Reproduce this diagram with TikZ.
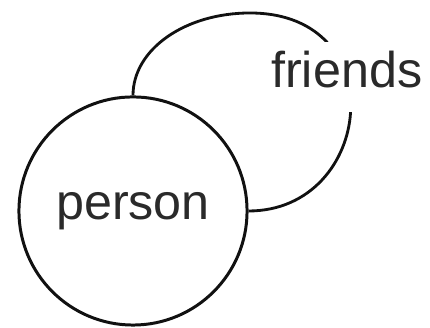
\documentclass[tikz,border=0pt]{standalone}
\usepackage{fontspec}
\setmainfont{Liberation Sans}
\usepackage{tikz}
\usetikzlibrary{positioning}
\definecolor{erink}{HTML}{111111}
\definecolor{ertext}{HTML}{2A2A2A}
\tikzset{
  ent/.style={circle, draw=erink, line width=0.85pt, minimum size=2.28cm, inner sep=0pt, text=ertext, font=\fontsize{14.3}{17}\selectfont},
  rel/.style={draw=erink, line width=0.8pt},
  rlbl/.style={fill=white, inner sep=2pt, text height=11pt, text depth=5pt, text=ertext, font=\fontsize{14.3}{17}\selectfont},
}
\begin{document}
\begin{tikzpicture}[x=0.01cm, y=0.01cm]
  \useasboundingbox (0,0) rectangle (430,328);
  \node[ent] (person) at (133,117) {person};
  \coordinate (looptop) at (250,315);
  \draw[rel] (person.north) to[out=90, in=180, out distance=0.46cm, in distance=0.65cm] (looptop)
    to[out=0, in=0, out distance=1.45cm, in distance=1.25cm] node[rlbl, pos=0.38] (friends) {friends} (person.east);
\end{tikzpicture}
\end{document}
